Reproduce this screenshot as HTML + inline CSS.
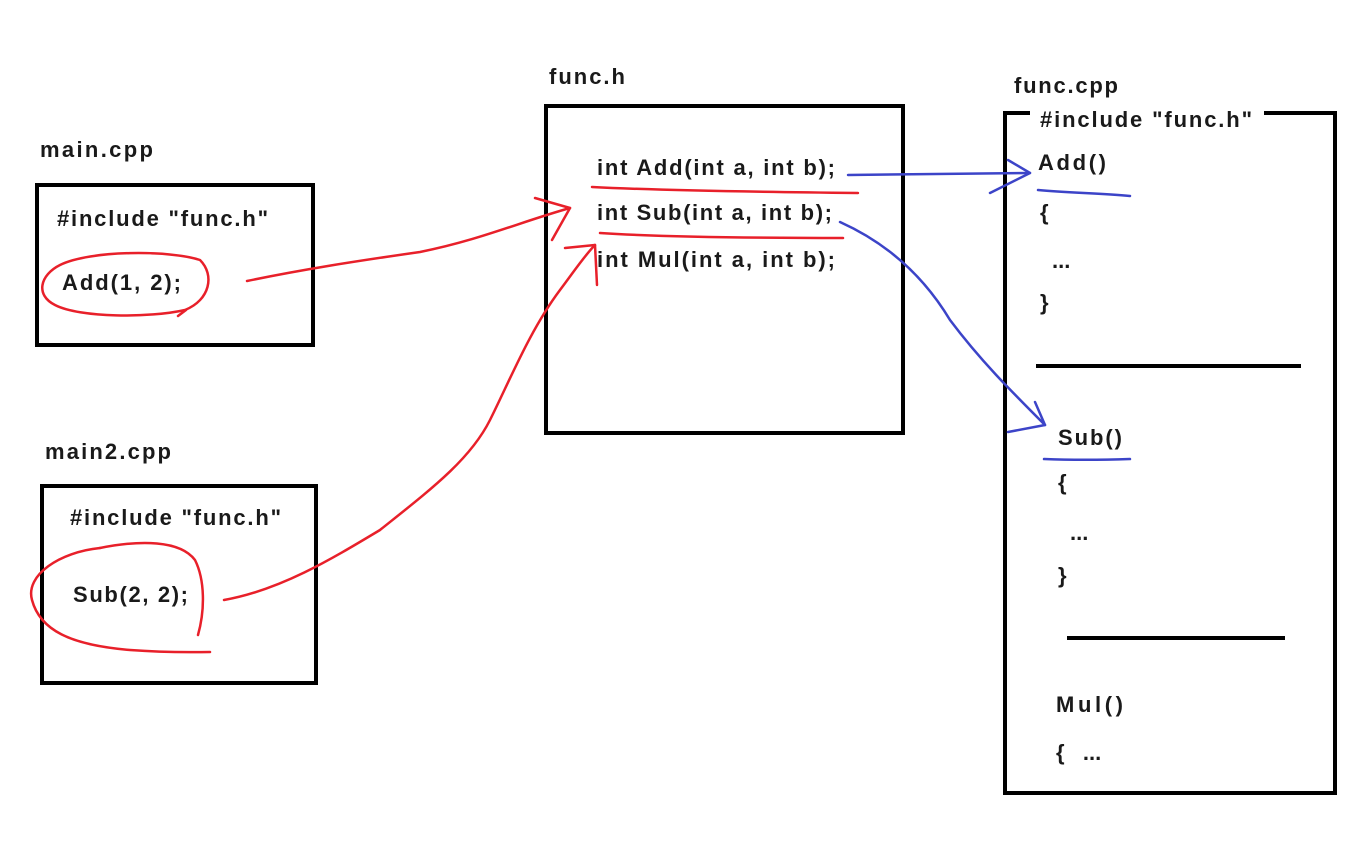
<!DOCTYPE html>
<html><head><meta charset="utf-8"><style>
html,body{margin:0;padding:0;background:#fff;}
svg{display:block;}
text{font-family:"Liberation Sans",sans-serif;font-weight:bold;font-size:22px;fill:#1a1a1a;}
</style></head><body>
<svg width="1351" height="856" viewBox="0 0 1351 856" xmlns="http://www.w3.org/2000/svg">
<g fill="none" stroke="#000" stroke-width="4">
<rect x="37" y="185" width="276" height="160"/>
<rect x="42" y="486" width="274" height="197"/>
<rect x="546" y="106" width="357" height="327"/>
<polyline points="1030,113 1005,113 1005,793 1335,793 1335,113 1264,113"/>
<line x1="1036" y1="366" x2="1301" y2="366"/>
<line x1="1067" y1="638" x2="1285" y2="638"/>
</g>
<text x="40" y="157" textLength="113">main.cpp</text>
<text x="57" y="226" textLength="211">#include "func.h"</text>
<text x="62" y="290" textLength="119">Add(1, 2);</text>
<text x="45" y="459" textLength="126">main2.cpp</text>
<text x="70" y="525" textLength="211">#include "func.h"</text>
<text x="73" y="602" textLength="115">Sub(2, 2);</text>
<text x="549" y="84" textLength="76">func.h</text>
<text x="597" y="175" textLength="238">int Add(int a, int b);</text>
<text x="597" y="220" textLength="235">int Sub(int a, int b);</text>
<text x="597" y="267" textLength="238">int Mul(int a, int b);</text>
<text x="1014" y="93" textLength="104">func.cpp</text>
<text x="1040" y="127" textLength="212">#include "func.h"</text>
<text x="1038" y="170" textLength="68">Add()</text>
<text x="1040" y="220">{</text>
<text x="1052" y="268">...</text>
<text x="1040" y="310">}</text>
<text x="1058" y="445" textLength="64">Sub()</text>
<text x="1058" y="490">{</text>
<text x="1070" y="540">...</text>
<text x="1058" y="583">}</text>
<text x="1056" y="712" textLength="67">Mul()</text>
<text x="1056" y="760" xml:space="preserve">{   ...</text>
<g fill="none" stroke="#e8202a" stroke-width="2.5" stroke-linecap="round" stroke-linejoin="round">
<path d="M60,265 C90,250 170,250 200,260 C215,275 210,300 185,310 C150,318 80,318 55,305 C35,295 40,275 60,265"/>
<path d="M178,316 L186,310"/>
<path d="M247,281 C300,270 350,262 420,252 C480,240 520,222 570,208"/>
<path d="M535,198 L570,208 L552,240"/>
<path d="M100,548 C140,540 180,540 195,560 C205,580 205,610 198,635"/>
<path d="M100,548 C60,552 25,575 32,600 C40,630 70,645 130,650 C170,653 195,652 210,652"/>
<path d="M224,600 C280,590 330,560 380,530 C430,490 470,460 490,420 C510,380 530,330 560,290 C575,270 585,255 595,245"/>
<path d="M565,248 L595,245 L597,285"/>
<path d="M592,187 C650,190 760,192 858,193"/>
<path d="M600,233 C660,237 760,238 843,238"/>
</g>
<g fill="none" stroke="#3c44c8" stroke-width="2.5" stroke-linecap="round" stroke-linejoin="round">
<path d="M848,175 C900,174 950,174 1030,173"/>
<path d="M1008,160 L1030,173 L990,193"/>
<path d="M1038,190 C1070,193 1100,193 1130,196"/>
<path d="M840,222 C880,240 920,270 950,320 C980,360 1010,390 1045,425"/>
<path d="M1035,402 L1045,425 L1008,432"/>
<path d="M1044,459 C1070,460 1100,460 1130,459"/>
</g>
</svg>
</body></html>
